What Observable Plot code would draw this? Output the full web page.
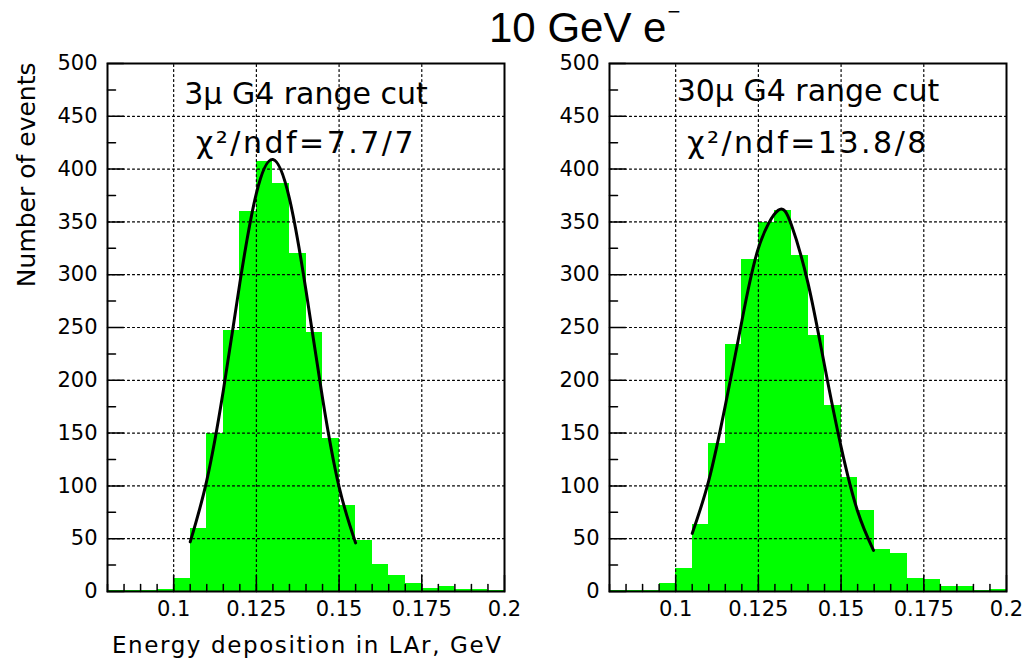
<!DOCTYPE html>
<html>
<head>
<meta charset="utf-8">
<script src="https://cdn.jsdelivr.net/npm/d3@7"></script>
<script src="https://cdn.jsdelivr.net/npm/@observablehq/plot@0.6"></script>
<style>
  html, body { margin: 0; padding: 0; background: white; }
  #wrap { position: relative; width: 1028px; height: 662px; background: white; overflow: hidden; }
  #wrap svg { position: absolute; top: 0; }
  #title { position: absolute; left: 489px; top: 7px; font-family: "Liberation Sans", Arial, sans-serif; font-size: 42px; line-height: 1; color: black; white-space: nowrap; }
  #title .sup { position: relative; top: -23px; font-size: 22px; line-height: 1; margin-left: 1px; }
</style>
</head>
<body>
<div id="wrap">
  <div id="title">10 GeV e<span class="sup">−</span></div>
</div>
<script>
// ---- data ----
const binLo = [0.080, 0.085, 0.090, 0.095, 0.100, 0.105, 0.110, 0.115, 0.120, 0.125, 0.130, 0.135,
               0.140, 0.145, 0.150, 0.155, 0.160, 0.165, 0.170, 0.175, 0.180, 0.185, 0.190, 0.195];
const binWidth = 0.005;
const counts3 = [1, 1, 1, 2, 12, 60, 150, 247, 360, 407, 386, 320,
                 245, 145, 81, 48, 26, 15, 8, 3, 5, 2, 2, 1];
const counts30 = [1, 1, 1, 8, 22, 63, 140, 234, 314, 349, 361, 318,
                  242, 176, 108, 77, 40, 36, 12, 11, 5, 5, 1, 2];

const fit3X = [0.105, 0.110, 0.115, 0.120, 0.125, 0.130, 0.135, 0.140, 0.145, 0.150, 0.155];
const fit3Y = [47, 105, 190, 292, 377, 409, 372, 285, 183, 99, 46];
const fit30X = [0.105, 0.110, 0.115, 0.120, 0.125, 0.131, 0.135, 0.140, 0.145, 0.150, 0.155, 0.1598];
const fit30Y = [55, 105, 176, 256, 325, 361, 347, 292, 214, 137, 76, 39];

const xTicks = [0.1, 0.125, 0.15, 0.175, 0.2];
const xTickLabels = ["0.1", "0.125", "0.15", "0.175", "0.2"];
const xGrid = [0.1, 0.125, 0.15, 0.175];
const yTicks = [0, 50, 100, 150, 200, 250, 300, 350, 400, 450, 500];
const yMinor = [25, 75, 125, 175, 225, 275, 325, 375, 425, 475];
const yGrid = [50, 100, 150, 200, 250, 300, 350, 400, 450];

const labels3 = ["3μ G4 range cut", "χ²/ndf=7.7/7"];
const labels30 = ["30μ G4 range cut", "χ²/ndf=13.8/8"];
const xLabel = "Energy deposition in LAr, GeV";
const yLabel = "Number of events";

// ---- layout constants ----
const xDomain = [0.08, 0.2];
const yDomain = [0, 500];
const innerW = 397, innerH = 528;
const pxX = (xDomain[1] - xDomain[0]) / innerW;  // data units per pixel (x)
const pxY = (yDomain[1] - yDomain[0]) / innerH;  // data units per pixel (y)

// segments as two-point polylines grouped by key
function hSegs(vals, x1, x2) { return vals.flatMap((v) => [{x: x1, y: v, k: v}, {x: x2, y: v, k: v}]); }
function vSegs(vals, y1, y2) { return vals.flatMap((v) => [{x: v, y: y1, k: v}, {x: v, y: y2, k: v}]); }

function panel(counts, fitX, fitY, labels, opts) {
  const bins = binLo.map((x1, i) => ({x1, x2: x1 + binWidth, y: counts[i]}));
  const fit = fitX.map((x, i) => ({x, y: fitY[i]}));
  const grid = {x: "x", y: "y", z: "k", stroke: "black", strokeWidth: 1.2, strokeDasharray: "2,3"};
  const tk = {x: "x", y: "y", z: "k", stroke: "black", strokeWidth: 1.5};
  const marks = [
    Plot.rectY(bins, {x1: "x1", x2: "x2", y: "y", fill: "#00ff00", inset: 0, shapeRendering: "crispEdges"}),
    Plot.line(hSegs(yGrid, xDomain[0], xDomain[1]), grid),
    Plot.line(vSegs(xGrid, yDomain[0], yDomain[1]), grid),
    // y ticks (inside, on left edge)
    Plot.line(hSegs(yTicks, xDomain[0], xDomain[0] + 16 * pxX), tk),
    Plot.line(hSegs(yMinor, xDomain[0], xDomain[0] + 8 * pxX), tk),
    // x ticks (inside, on bottom edge)
    Plot.line(vSegs(xTicks, yDomain[0], yDomain[0] + 16 * pxY), tk),
    Plot.line(vSegs(binLo, yDomain[0], yDomain[0] + 7 * pxY), tk),
    // tick labels
    Plot.text(yTicks, {y: (d) => d, text: (d) => String(d), frameAnchor: "left", textAnchor: "end", dx: -10, fontSize: 21}),
    Plot.text(xTicks, {x: (d) => d, text: (d, i) => xTickLabels[i], frameAnchor: "bottom", lineAnchor: "middle", dy: 18, fontSize: 21}),
    Plot.line(fit, {x: "x", y: "y", curve: "natural", stroke: "black", strokeWidth: 3}),
    Plot.frame({stroke: "black", strokeWidth: 2}),
    Plot.text([labels[0]], {text: (d) => d, frameAnchor: "top", lineAnchor: "middle", dy: opts.dy1, fontSize: 30}),
    Plot.text([labels[1]], {text: (d) => d, frameAnchor: "top", lineAnchor: "middle", dy: 80, fontSize: 30})
  ];
  if (opts.axisTitles) {
    marks.push(Plot.text([xLabel], {text: (d) => d, frameAnchor: "bottom-right", textAnchor: "end",
      lineAnchor: "middle", dx: -2, dy: 54, fontSize: 23}));
    marks.push(Plot.text([yLabel], {text: (d) => d, frameAnchor: "top-left", textAnchor: "end",
      lineAnchor: "middle", rotate: -90, dx: -81, dy: -1, fontSize: 25}));
  }
  const svg = Plot.plot({
    width: 514,
    height: 662,
    marginLeft: opts.ml,
    marginRight: opts.mr,
    marginTop: 63,
    marginBottom: 71,
    x: {domain: xDomain, axis: null},
    y: {domain: yDomain, axis: null},
    style: {fontFamily: "'DejaVu Sans', sans-serif", fontSize: "20px", color: "black", background: "transparent", overflow: "visible"},
    marks
  });
  // letter spacing tweaks for the wide reference lettering
  svg.querySelectorAll("text").forEach((t) => {
    const s = t.textContent;
    if (s === xLabel) t.setAttribute("letter-spacing", "1.6px");
    if (s.startsWith("χ")) t.setAttribute("letter-spacing", "2.5px");
  });
  return svg;
}

const wrap = document.getElementById("wrap");
const left = panel(counts3, fit3X, fit3Y, labels3, {ml: 107, mr: 10, dy1: 31, axisTitles: true});
left.style.left = "0px";
const right = panel(counts30, fit30X, fit30Y, labels30, {ml: 95, mr: 22, dy1: 28, axisTitles: false});
right.style.left = "514px";
wrap.appendChild(left);
wrap.appendChild(right);
</script>
</body>
</html>
